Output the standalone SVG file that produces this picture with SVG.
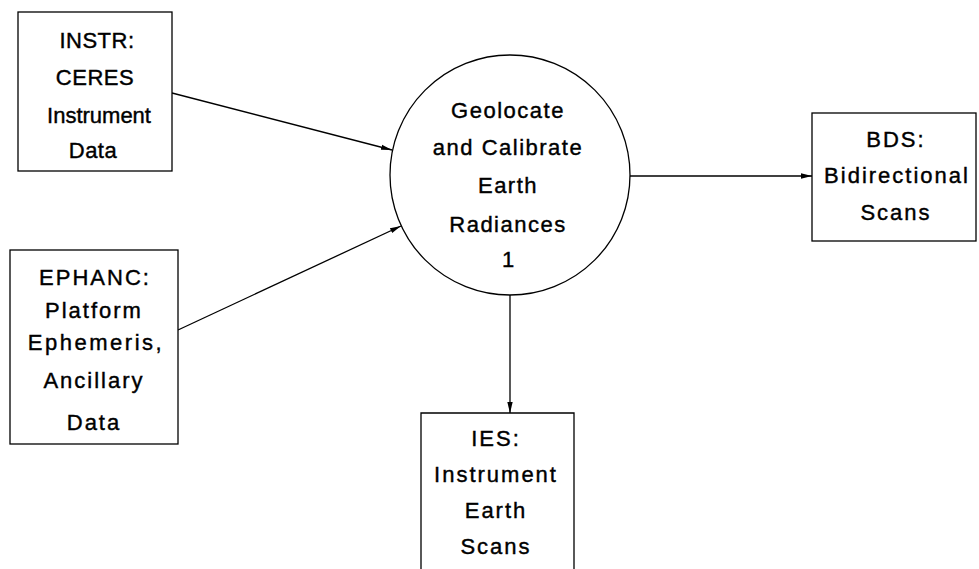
<svg xmlns="http://www.w3.org/2000/svg" width="979" height="569" viewBox="0 0 979 569">
<defs>
<marker id="arr" markerUnits="userSpaceOnUse" markerWidth="12" markerHeight="8" refX="11" refY="4" orient="auto">
<path d="M0,1.3 L11,4 L0,6.7 Z" fill="#000"/>
</marker>
<style>
.n rect, .n circle { fill: #fff; stroke: #000; stroke-width: 1.3; }
text { font-family: "Liberation Sans", Arial, sans-serif; font-size: 22px; text-anchor: middle; fill: #000; stroke: #000; stroke-width: 0.4; }
.c line { stroke: #000; stroke-width: 1.3; marker-end: url(#arr); }
</style>
</defs>
<rect x="0" y="0" width="979" height="569" fill="#fff"/>
<g class="c" id="connectors">
<line x1="172" y1="93" x2="392" y2="150"/>
<line x1="178" y1="330" x2="401" y2="226"/>
<line x1="630" y1="176" x2="812" y2="176"/>
<line x1="510" y1="295" x2="510" y2="413"/>
</g>
<g class="n" id="instr">
<rect x="18" y="12" width="154" height="159"/>
<text x="97" y="48" style="letter-spacing:0.5px">INSTR:</text>
<text x="95" y="85" style="letter-spacing:0.5px">CERES</text>
<text x="99" y="123">Instrument</text>
<text x="93" y="158" style="letter-spacing:0.5px">Data</text>
</g>
<g class="n" id="ephanc">
<rect x="10" y="250" width="168" height="194"/>
<text x="95" y="285" style="letter-spacing:2px">EPHANC:</text>
<text x="94" y="318" style="letter-spacing:2px">Platform</text>
<text x="96" y="350" style="letter-spacing:2.5px">Ephemeris,</text>
<text x="94" y="388" style="letter-spacing:2px">Ancillary</text>
<text x="94" y="430" style="letter-spacing:2px">Data</text>
</g>
<g class="n" id="process1">
<circle cx="510" cy="175" r="120"/>
<text x="508" y="118" style="letter-spacing:1.5px">Geolocate</text>
<text x="508" y="155" style="letter-spacing:1.5px">and Calibrate</text>
<text x="508" y="193" style="letter-spacing:1.5px">Earth</text>
<text x="508" y="232" style="letter-spacing:1.5px">Radiances</text>
<text x="508" y="267">1</text>
</g>
<g class="n" id="bds">
<rect x="812" y="113" width="164" height="128"/>
<text x="896" y="147" style="letter-spacing:2px">BDS:</text>
<text x="897" y="183" style="letter-spacing:2px">Bidirectional</text>
<text x="896" y="220" style="letter-spacing:2px">Scans</text>
</g>
<g class="n" id="ies">
<path d="M421,569 L421,413 L574,413 L574,569" fill="#fff" stroke="#000" stroke-width="1.3"/>
<text x="496" y="446" style="letter-spacing:2px">IES:</text>
<text x="496" y="482" style="letter-spacing:2px">Instrument</text>
<text x="496" y="518" style="letter-spacing:2px">Earth</text>
<text x="496" y="554" style="letter-spacing:2px">Scans</text>
</g>
</svg>
